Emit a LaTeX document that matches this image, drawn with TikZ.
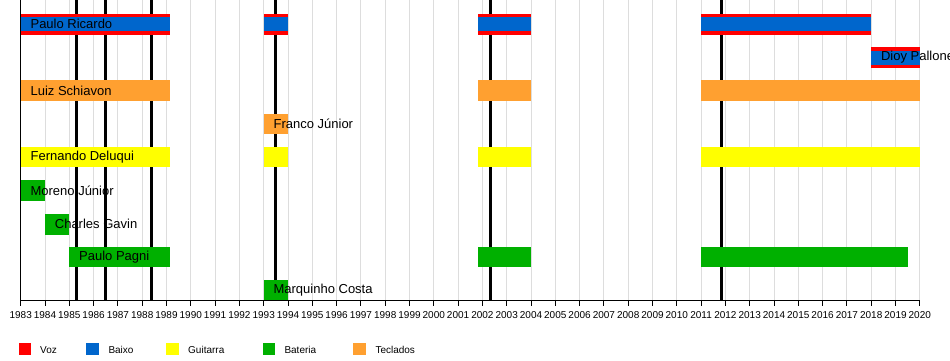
\documentclass[tikz,border=0pt]{standalone}
\usepackage{fontspec}
\setmainfont{Liberation Sans}
\definecolor{cvoz}{HTML}{FF0000}
\definecolor{cbaixo}{HTML}{0066CC}
\definecolor{cguit}{HTML}{FFFF00}
\definecolor{cbat}{HTML}{00B000}
\definecolor{ctec}{HTML}{FFA030}
\definecolor{cgrid}{HTML}{DDDDDD}
\newcommand{\YX}[1]{20.7+(#1-1983)*24.3}
\newcommand{\plainbar}[4]{\fill[#1] ({\YX{#2}},{#4-10.3}) rectangle ({\YX{#3}},{#4+10.3});}
\newcommand{\vozbar}[3]{\fill[cvoz] ({\YX{#1}},{#3-10.3}) rectangle ({\YX{#2}},{#3+10.3});
  \fill[cbaixo] ({\YX{#1}},{#3-7}) rectangle ({\YX{#2}},{#3+7});}
\tikzset{
  namelbl/.style={anchor=west,inner sep=0pt,font=\fontsize{13}{15}\selectfont},
  yearlbl/.style={inner sep=0pt,font=\fontsize{10}{12}\selectfont},
  leglbl/.style={anchor=west,inner sep=0pt,font=\fontsize{10}{12}\selectfont},
  legsq/.style={minimum width=12.7pt,minimum height=12.7pt,inner sep=0pt,anchor=north west},
  album/.style={line width=3pt,black},
}
\begin{document}
\begin{tikzpicture}[x=1pt,y=-1pt]
\useasboundingbox (0,0) rectangle (950,360);
\fill[white] (0,0) rectangle (950,360);
% grid
\foreach \yr in {1984,...,2020} \draw[cgrid,line width=1pt] ({\YX{\yr}},0) -- ({\YX{\yr}},300);
% album lines
\foreach \xx in {76.7,105.5,151.7,275.3,490.3,721.7} \draw[album] (\xx,0) -- (\xx,300);
% bars
\vozbar{1983}{1989.14}{24.3}
\vozbar{1993}{1994}{24.3}
\vozbar{2001.82}{2004}{24.3}
\vozbar{2011}{2018}{24.3}
\vozbar{2018}{2020}{57.5}
\plainbar{ctec}{1983}{1989.14}{90.5}
\plainbar{ctec}{2001.82}{2004}{90.5}
\plainbar{ctec}{2011}{2020}{90.5}
\plainbar{ctec}{1993}{1994}{124}
\plainbar{cguit}{1983}{1989.14}{157}
\plainbar{cguit}{1993}{1994}{157}
\plainbar{cguit}{2001.82}{2004}{157}
\plainbar{cguit}{2011}{2020}{157}
\plainbar{cbat}{1983}{1984}{190.5}
\plainbar{cbat}{1984}{1985}{224.3}
\plainbar{cbat}{1985}{1989.14}{257}
\plainbar{cbat}{2001.82}{2004}{257}
\plainbar{cbat}{2011}{2019.5}{257}
\plainbar{cbat}{1993}{1994}{290}
% axes
\draw[black,line width=1pt] ({\YX{1983}},0) -- ({\YX{1983}},300) -- ({\YX{2020}},300);
\foreach \yr in {1983,...,2020} {
  \draw[black,line width=1pt] ({\YX{\yr}},300) -- ({\YX{\yr}},306);
  \node[yearlbl] (y\yr) at ({\YX{\yr}},315) {\yr};
}
% names
\node[namelbl] (n1) at ({\YX{1983}+9.7},24.3) {Paulo Ricardo};
\node[namelbl] (n2) at ({\YX{2018}+9.7},57.5) {Dioy Pallone};
\node[namelbl] (n3) at ({\YX{1983}+9.7},90.5) {Luiz Schiavon};
\node[namelbl] (n4) at ({\YX{1993}+9.7},124) {Franco Júnior};
\node[namelbl] (n5) at ({\YX{1983}+9.7},157) {Fernando Deluqui};
\node[namelbl] (n6) at ({\YX{1983}+9.7},190.5) {Moreno Júnior};
\node[namelbl] (n7) at ({\YX{1984}+9.7},224.3) {Charles Gavin};
\node[namelbl] (n8) at ({\YX{1985}+9.7},257) {Paulo Pagni};
\node[namelbl] (n9) at ({\YX{1993}+9.7},290) {Marquinho Costa};
% legend
\node[legsq,fill=cvoz] (s1) at (18.3,342.3) {};
\node[leglbl] (l1) at (40,350) {Voz};
\node[legsq,fill=cbaixo] (s2) at (86,342.3) {};
\node[leglbl] (l2) at (108.3,350) {Baixo};
\node[legsq,fill=cguit] (s3) at (166,342.3) {};
\node[leglbl] (l3) at (188,350) {Guitarra};
\node[legsq,fill=cbat] (s4) at (262.3,342.3) {};
\node[leglbl] (l4) at (284.3,350) {Bateria};
\node[legsq,fill=ctec] (s5) at (353,342.3) {};
\node[leglbl] (l5) at (375.3,350) {Teclados};
\end{tikzpicture}
\end{document}
